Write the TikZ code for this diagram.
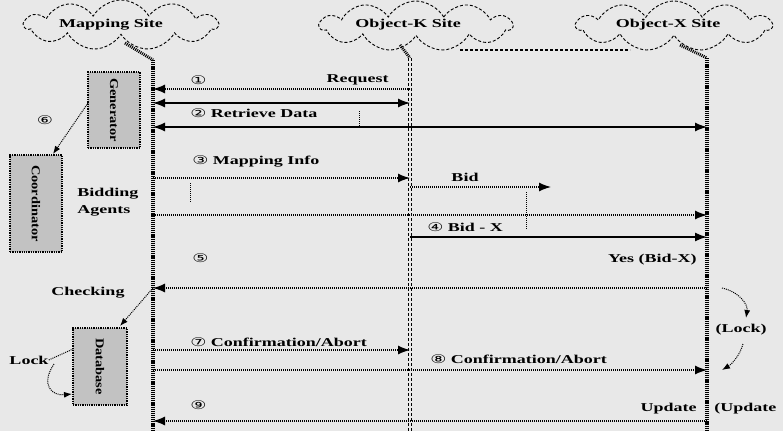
\documentclass[tikz,border=0pt]{standalone}
\usepackage{fontspec}
\setmainfont{Liberation Serif}
\newfontfamily\circfont{DejaVu Sans}
\usetikzlibrary{arrows.meta,shapes.symbols}
\newcommand\cnum[1]{{\circfont\mdseries #1}}
\definecolor{bg}{gray}{0.91}
\definecolor{boxfill}{gray}{0.76}

\begin{document}
\begin{tikzpicture}[x=1pt,y=-1pt,
  >={Latex[length=12pt,width=9pt]},
  txt/.style={font=\bfseries\fontsize{12}{17}\selectfont, inner sep=0pt, xscale=1.5},
  vtxt/.style={font=\bfseries\fontsize{12}{14}\selectfont, inner sep=0pt, rotate=-90, xscale=1.2},
  site/.style={cloud, draw, densely dashed, line width=0.9pt, cloud puffs=11,
    cloud puff arc=120, cloud ignores aspect, inner sep=0pt},
  tail/.style={line width=3pt, dash pattern=on 1pt off 1pt},
  lifeA/.style={line width=3.5pt, dash pattern=on 1.2pt off 0.9pt},
  lifeB/.style={line width=0.9pt, densely dashed, double=bg, double distance=2.5pt},
  msg/.style={line width=1.3pt, dash pattern=on 1.3pt off 0.7pt},
  solidmsg/.style={line width=1.6pt},
  agent/.style={draw, densely dotted, line width=1.3pt, fill=boxfill, inner sep=0pt},
  note/.style={line width=1pt, densely dotted},
  small/.style={-{Latex[length=8pt,width=6pt]}},
]
\fill[bg] (0,0) rectangle (783,431);
\useasboundingbox (0,0) rectangle (783,431);

% sites
\node[site, minimum width=193pt, minimum height=50pt] (cM) at (121,25) {};
\node[site, minimum width=192pt, minimum height=50pt] (cK) at (416,26) {};
\node[site, minimum width=195pt, minimum height=50pt] (cX) at (674,26) {};
\node[txt] (tM) at (111,25) {Mapping Site};
\node[txt] (tK) at (408,25) {Object-K Site};
\node[txt] (tX) at (668,25) {Object-X Site};

% lifelines
\coordinate (mTop) at (153,60);  \coordinate (mBot) at (153,431);
\coordinate (kTop) at (410,58);  \coordinate (kBot) at (410,431);
\coordinate (xTop) at (707,58);  \coordinate (xBot) at (707,431);
\coordinate (mTail) at (125,43); \coordinate (kTail) at (400,45); \coordinate (xTail) at (680,45);
\draw[tail] (mTail) -- (mTop);
\draw[tail] (kTail) -- (kTop);
\draw[tail] (xTail) -- (xTop);
\draw[lifeA] (mTop) -- (mBot);
\draw[lifeB] (kTop) -- (kBot);
\draw[lifeA] (xTop) -- (xBot);

\coordinate (d1) at (460,50); \coordinate (d2) at (630,50);
\draw[densely dashed, line width=1.2pt] (d1) -- (d2);

% message end points
\coordinate (m1) at (153,89);  \coordinate (k1) at (410,89);
\coordinate (m2) at (153,103); \coordinate (k2) at (410,103);
\coordinate (m3) at (153,127); \coordinate (x3) at (707,127);
\coordinate (m4) at (153,178); \coordinate (k4) at (410,178);
\coordinate (k5) at (410,187); \coordinate (b5) at (551,187);
\coordinate (m6) at (153,215); \coordinate (x6) at (707,215);
\coordinate (k7) at (410,237); \coordinate (x7) at (707,237);
\coordinate (m8) at (153,288); \coordinate (x8) at (707,288);
\coordinate (m9) at (153,350); \coordinate (k9) at (410,350);
\coordinate (m10) at (153,370); \coordinate (x10) at (707,370);
\coordinate (m11) at (153,421); \coordinate (x11) at (707,421);

\draw[msg,->] (k1) -- (m1);
\draw[msg,<->] (m2) -- (k2);
\draw[msg,<->] (m3) -- (x3);
\draw[msg,->] (m4) -- (k4);
\draw[msg,->] (k5) -- (b5);
\draw[msg,->] (m6) -- (x6);
\draw[solidmsg,->] (k7) -- (x7);
\draw[msg,->] (x8) -- (m8);
\draw[msg,->] (m9) -- (k9);
\draw[msg,->] (m10) -- (x10);
\draw[msg,->] (x11) -- (m11);

% short dotted ticks
\coordinate (ta1) at (359,111); \coordinate (ta2) at (359,126);
\coordinate (tb1) at (190,183); \coordinate (tb2) at (190,202);
\coordinate (tc1) at (526,192); \coordinate (tc2) at (526,230);
\draw[note] (ta1) -- (ta2);
\draw[note] (tb1) -- (tb2);
\draw[note] (tc1) -- (tc2);

% message labels
\node[txt, anchor=west] (n1) at (190,80) {\cnum{①}};
\node[txt, anchor=east] (req) at (389,80) {Request};
\node[txt, anchor=west] (n2) at (190,113) {\cnum{②} Retrieve Data};
\node[txt, anchor=west] (n3) at (192,161) {\cnum{③} Mapping Info};
\node[txt] (bid) at (465,177) {Bid};
\node[txt, anchor=west] (n4) at (427,227) {\cnum{④} Bid - X};
\node[txt, anchor=west] (n5) at (192,258) {\cnum{⑤}};
\node[txt, anchor=east] (yes) at (697,260) {Yes (Bid-X)};
\node[txt, anchor=west] (n7) at (190,342) {\cnum{⑦} Confirmation/Abort};
\node[txt, anchor=west] (n8) at (430,359) {\cnum{⑧} Confirmation/Abort};
\node[txt, anchor=west] (n9) at (190,405) {\cnum{⑨}};
\node[txt, anchor=east] (upd) at (697,409) {Update};
\node[txt, anchor=west] (upd2) at (714,409) {(Update};
\node[txt] (lockR) at (741,330) {(Lock)};

% agents on the mapping side
\node[agent, minimum width=52pt, minimum height=76pt] (gen) at (114,110) {};
\node[vtxt] (genT) at (gen) {Generator};
\node[agent, minimum width=52pt, minimum height=97pt] (coo) at (36,203.5) {};
\node[vtxt] (cooT) at (coo) {Coordinator};
\node[agent, minimum width=54pt, minimum height=77pt] (db) at (100,366.5) {};
\node[vtxt] (dbT) at (db) {Database};

\node[txt] (n6) at (45,120) {\cnum{⑥}};
\node[txt, align=left, anchor=north west] (bag) at (77,188) {Bidding\\Agents};
\node[txt] (chk) at (88,293) {Checking};
\node[txt] (lk) at (29,360) {Lock};

\coordinate (g6) at (88,103); \coordinate (c6) at (53,154);
\draw[note,small] (g6) -- (c6);
\coordinate (chkA) at (153,288); \coordinate (chkB) at (120,326);
\draw[note,small] (chkA) -- (chkB);
\coordinate (lk1) at (73,349);
\draw[note] (lk.east) -- (lk1);
\coordinate (lk2) at (54,364); \coordinate (lk3) at (72,394);
\draw[note,small] (lk2) .. controls (40,385) and (52,396) .. (lk3);

% lock marks on the Object-X side
\coordinate (la1) at (722,288); \coordinate (la2) at (746,318);
\coordinate (lb1) at (743,344); \coordinate (lb2) at (722,370);
\draw[note,small] (la1) .. controls (740,292) and (748,305) .. (la2);
\draw[note,small] (lb1) .. controls (740,355) and (732,364) .. (lb2);
\end{tikzpicture}
\end{document}
